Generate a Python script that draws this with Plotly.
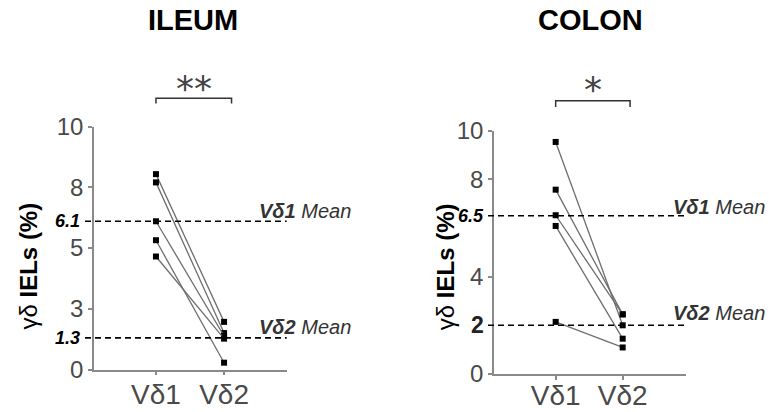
import plotly.graph_objects as go

# ---------------- data ----------------
categories = ["Vδ1", "Vδ2"]
ileum_vd1 = [8.04, 7.70, 6.10, 5.32, 4.65]
ileum_vd2 = [1.96, 1.50, 1.38, 0.28, 1.27]
colon_vd1 = [9.53, 7.57, 6.52, 6.08, 2.14]
colon_vd2 = [2.00, 2.45, 2.45, 1.45, 1.09]
ileum_means = [6.1, 1.3]
colon_means = [6.5, 2.0]
ileum_tickvals = [0, 2.5, 5, 7.5, 10]
ileum_ticktext = ["0", "3", "5", "8", "10"]
colon_tickvals = [0, 4, 8, 10]
colon_ticktext = ["0", "4", "8", "10"]
panel_titles = ["ILEUM", "COLON"]
sig_labels = ["**", "*"]
mean_labels = ["<b><i>Vδ1</i></b><i> Mean</i>", "<b><i>Vδ2</i></b><i> Mean</i>"]
mean_ticktext = [["6.1", "1.3"], ["6.5", "2"]]
y_title = "γδ <b>IELs (%)</b>"

W, H = 769, 412
FONT = "Liberation Sans, Arial, sans-serif"
GRAY = "#4a4a4a"
AXC = "#8a8a8a"

def px(x):
    return x / W

def py(y):
    return 1 - y / H

fig = go.Figure()

panels = [
    dict(v1=ileum_vd1, v2=ileum_vd2, means=ileum_means, tv=ileum_tickvals, tt=ileum_ticktext,
         xa="x", ya="y", xdom=[px(94), px(286.7)], ydom=[py(369.5), py(126.5)], xr=[-0.91, 1.92],
         dash_x=[px(85), px(286.7)], title_x=193, ytitle_x=28, label_r=353, standoff=-5,
         mean_lab_y=[210.7, 326.7], mean_tick_x=82, br_y=98.3, br_tick=103.5, star_y=88),
    dict(v1=colon_vd1, v2=colon_vd2, means=colon_means, tv=colon_tickvals, tt=colon_ticktext,
         xa="x2", ya="y2", xdom=[px(494), px(685.7)], ydom=[py(374), py(130.5)], xr=[-0.92, 1.94],
         dash_x=[px(488), px(685.7)], title_x=590, ytitle_x=445.7, label_r=767, standoff=-8,
         mean_lab_y=[207.3, 313.3], mean_tick_x=486, br_y=100.7, br_tick=107, star_y=89),
]

for i, p in enumerate(panels):
    for a, b in zip(p["v1"], p["v2"]):
        fig.add_trace(go.Scatter(
            x=categories, y=[a, b], mode="lines+markers", xaxis=p["xa"], yaxis=p["ya"],
            line=dict(color="#6e6e6e", width=1.3),
            marker=dict(symbol="square", size=6, color="black"),
            cliponaxis=False, showlegend=False, hoverinfo="skip"))

    xkey = "xaxis" if p["xa"] == "x" else "xaxis2"
    ykey = "yaxis" if p["ya"] == "y" else "yaxis2"
    fig.layout[xkey] = dict(
        domain=p["xdom"], anchor=p["ya"], type="category", categoryorder="array",
        categoryarray=categories, range=p["xr"], showline=True, linecolor=AXC, linewidth=1.5,
        ticks="outside", ticklen=4, tickcolor=AXC, tickwidth=1.5, showgrid=False, zeroline=False,
        ticklabelstandoff=p["standoff"],
        automargin=False, tickfont=dict(family=FONT, size=28, color=GRAY))
    fig.layout[ykey] = dict(
        domain=p["ydom"], anchor=p["xa"], range=[0, 10], showline=True, linecolor=AXC,
        linewidth=1.5, ticks="outside", ticklen=4, tickcolor=AXC, tickwidth=1.5,
        tickvals=p["tv"], ticktext=p["tt"], showgrid=False, zeroline=False,
        automargin=False, tickfont=dict(family=FONT, size=24, color=GRAY))

    # mean dashed lines + labels
    for m, lab, ly, mt in zip(p["means"], mean_labels, p["mean_lab_y"], mean_ticktext[i]):
        fig.add_shape(type="line", xref="paper", yref=p["ya"], x0=p["dash_x"][0], x1=p["dash_x"][1],
                      y0=m, y1=m, line=dict(color="black", width=1.6, dash="6px,4px"))
        fig.add_annotation(xref="paper", yref="paper", x=px(p["label_r"]), y=py(ly), text=lab,
                           showarrow=False, xanchor="right", yanchor="middle",
                           font=dict(family=FONT, size=20, color="#333333"))
        txt = "<b>%s</b>" % mt if "." not in mt else "<b><i>%s</i></b>" % mt
        fig.add_annotation(xref="paper", yref=p["ya"], x=px(p["mean_tick_x"]), y=m,
                           text=txt, showarrow=False, xanchor="right", yanchor="middle",
                           font=dict(family=FONT, size=18 if "." in mt else 23,
                                     color="black" if "." in mt else "#222222"))

    # titles
    fig.add_annotation(xref="paper", yref="paper", x=px(p["title_x"]), y=py(20),
                       text="<b>%s</b>" % panel_titles[i], showarrow=False,
                       xanchor="center", yanchor="middle",
                       font=dict(family=FONT, size=29, color="black"))
    # y title
    fig.add_annotation(xref="paper", yref="paper", x=px(p["ytitle_x"]), y=py(266.5),
                       text=y_title, textangle=-90, showarrow=False,
                       xanchor="center", yanchor="middle",
                       font=dict(family=FONT, size=24, color="black"))
    # significance bracket
    fig.add_shape(type="path", xref=p["xa"], yref="paper",
                  path="M 0 %f L 0 %f L 1.11 %f L 1.11 %f" % (py(p["br_tick"]), py(p["br_y"]), py(p["br_y"]), py(p["br_tick"])),
                  line=dict(color="#333333", width=1.5))
    fig.add_annotation(xref=p["xa"], yref="paper", x=0.555, y=py(p["star_y"]),
                       text=sig_labels[i], showarrow=False, xanchor="center", yanchor="middle",
                       font=dict(family="DejaVu Sans", size=36, color="#444444"))

fig.update_layout(width=W, height=H, margin=dict(l=0, r=0, t=0, b=0),
                  paper_bgcolor="white", plot_bgcolor="white", showlegend=False)
fig.write_html("out.html", config={"displayModeBar": False},
               post_script="document.body.style.margin='0px';")
